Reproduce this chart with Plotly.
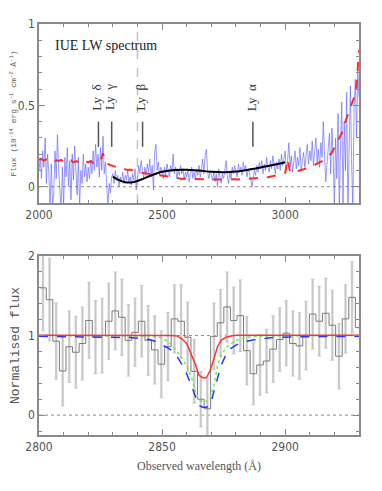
import numpy as np
import plotly.graph_objects as go
from plotly.subplots import make_subplots

# ---- top panel: IUE LW spectrum (flux in 1e-14 erg/s/cm2/A) ----
iue_start, iue_step = 2000, 5
iue_flux = [
    0.10, 0.18, 0.05, 0.22, 0.12, 0.30, 0.02, 0.20, 0.08, -0.13, 0.14, -0.11, -0.04, 0.22, 0.05, 0.32, 0.10, -0.02, -0.14, 0.12,
    -0.12, 0.18, 0.06, 0.24, 0.00, 0.16, -0.08, 0.20, 0.04, 0.25, 0.08, -0.05, 0.18, -0.12, 0.10, 0.02, 0.20, 0.06, 0.14, 0.03,
    0.12, 0.05, 0.16, 0.08, 0.22, 0.10, 0.26, 0.12, 0.20, 0.06, 0.24, 0.10, 0.31, 0.08, 0.15, -0.05, -0.12, 0.02, -0.04, 0.06,
    0.08, 0.02, 0.10, 0.04, 0.07, 0.00, 0.06, 0.03, 0.09, 0.02, 0.07, 0.04, 0.10, 0.03, 0.06, 0.01, 0.08, 0.04, 0.11, -0.02,
    0.06, 0.13, 0.08, 0.16, 0.10, 0.05, 0.12, 0.07, 0.14, 0.09, 0.17, 0.06, 0.13, -0.02, 0.21, 0.26, 0.10, 0.15, 0.07, 0.12,
    0.09, 0.05, 0.12, 0.07, 0.14, 0.10, 0.06, 0.13, 0.09, 0.20, 0.08, 0.12, 0.05, 0.10, 0.07, 0.13, 0.08, 0.11, 0.04, 0.09,
    0.06, 0.10, 0.03, 0.08, 0.12, 0.05, 0.09, 0.04, 0.11, 0.07, 0.13, 0.06, 0.10, 0.17, 0.08, 0.19, 0.23, 0.09, 0.05, 0.10,
    0.07, 0.04, 0.09, 0.03, 0.08, 0.00, 0.11, 0.06, 0.02, 0.08, 0.05, 0.10, 0.16, 0.07, 0.02, 0.09, 0.05, 0.12, 0.08, 0.13,
    0.10, 0.06, 0.14, 0.09, 0.12, 0.07, 0.15, 0.10, 0.13, 0.06, 0.11, 0.08, 0.05, 0.00, 0.04, 0.10, 0.07, 0.13, 0.09, 0.15,
    0.11, 0.16, 0.08, 0.14, 0.10, 0.18, 0.12, 0.09, 0.16, 0.11, 0.19, 0.13, 0.08, 0.15, 0.11, 0.17, 0.10, 0.20, 0.13, 0.17,
    0.22, 0.10, 0.16, 0.27, 0.12, 0.19, 0.09, 0.15, 0.22, 0.11, 0.18, 0.13, 0.24, 0.10, 0.17, 0.21, 0.12, 0.19, 0.26, 0.14,
    0.22, 0.16, 0.28, 0.13, 0.20, 0.30, 0.15, 0.23, 0.12, 0.27, 0.18, 0.40, 0.20, 0.03, 0.14, 0.24, 0.33, 0.08, 0.36, 0.20,
    -0.14, 0.30, 0.05, 0.45, -0.15, 0.25, 0.52, -0.12, 0.40, 0.10, 0.58, -0.15, 0.35, 0.62, 0.15, -0.14, 0.48, 0.66, 0.30, 0.72,
    0.55,
]

model_start, model_step = 2000, 10
model_flux = [
    0.165, 0.170, 0.160, 0.168, 0.158, 0.165, 0.155, 0.162, 0.158, 0.165,
    0.152, 0.160, 0.155, 0.162, 0.150, 0.158, 0.152, 0.160, 0.148, 0.155,
    0.150, 0.158, 0.145, 0.155, 0.165, 0.160, 0.205, 0.150, 0.140, 0.132,
    0.128, 0.125, 0.118, 0.120, 0.110, 0.108, 0.102, 0.105, 0.098, 0.095,
    0.090, 0.088, 0.085, 0.082, 0.080, 0.078, 0.076, 0.074, 0.072, 0.070,
    0.072, 0.070, 0.066, 0.064, 0.060, 0.056, 0.052, 0.050, 0.048, 0.050,
    0.052, 0.050, 0.048, 0.047, 0.046, 0.045, 0.046, 0.045, 0.044, 0.045,
    0.045, 0.044, 0.046, 0.045, 0.044, 0.045, 0.046, 0.045, 0.046, 0.045,
    0.046, 0.045, 0.046, 0.047, 0.046, 0.047, 0.048, 0.047, 0.049, 0.050,
    0.052, 0.054, 0.056, 0.058, 0.061, 0.064, 0.067, 0.071, 0.075, 0.080,
    0.085, 0.170, 0.090, 0.088, 0.092, 0.095, 0.100, 0.104, 0.110, 0.115,
    0.120, 0.128, 0.135, 0.142, 0.150, 0.155, 0.165, 0.175, 0.190, 0.210,
    0.240, 0.270, 0.300, 0.330, 0.380, 0.420, 0.470, 0.500, 0.550, 0.620,
    0.840,
]

cont_wave = [2300, 2325, 2350, 2375, 2400, 2425, 2450, 2475, 2500, 2550, 2600,
             2650, 2700, 2750, 2800, 2850, 2900, 2950, 3000]
cont_flux = [0.062, 0.040, 0.028, 0.026, 0.035, 0.050, 0.066, 0.080, 0.092, 0.103, 0.104,
             0.099, 0.092, 0.089, 0.093, 0.104, 0.118, 0.133, 0.150]

ly_names = ["Ly&nbsp;&nbsp;δ", "Ly&nbsp;&nbsp;γ", "Ly&nbsp;&nbsp;β", "Ly&nbsp;&nbsp;α"]
ly_wave = [2241.5, 2295.3, 2420.8, 2869.0]
lyman_limit = 2400

# ---- bottom panel: normalised flux around Ly alpha ----
bin_lo, bin_width = 2800.27, 2.672
norm_flux = [1.60, 1.45, 0.93, 0.555, 0.86, 0.79, 0.90, 1.19, 0.98, 1.00,
             1.18, 1.31, 1.23, 0.94, 1.04, 1.18, 0.94, 0.82, 0.64, 0.86,
             1.21, 1.18, 0.98, 0.55, 0.20, 0.08, 0.99, 1.16, 1.36, 1.19,
             1.25, 0.81, 0.52, 0.63, 0.68, 0.83, 0.95, 1.03, 0.90, 0.87,
             1.00, 1.27, 1.18, 1.28, 1.13, 0.74, 1.21, 1.48, 1.10]
norm_err = [0.54, 0.52, 0.48, 0.44, 0.45, 0.45, 0.46, 0.48, 0.46, 0.47,
            0.48, 0.49, 0.48, 0.45, 0.43, 0.45, 0.44, 0.43, 0.42, 0.43,
            0.43, 0.46, 0.44, 0.40, 0.35, 0.38, 0.42, 0.42, 0.44, 0.42,
            0.45, 0.43, 0.39, 0.38, 0.40, 0.42, 0.40, 0.41, 0.41, 0.42,
            0.43, 0.44, 0.44, 0.44, 0.44, 0.41, 0.43, 0.45, None]

fit_wave = [2800, 2830, 2837, 2842, 2845, 2848, 2850, 2852, 2854, 2856, 2858, 2860, 2862,
            2863.5, 2865, 2866.5, 2868, 2869.5, 2871, 2872.5, 2874, 2876, 2878, 2880,
            2884, 2888, 2895, 2905, 2930]
fit_red = [1.005, 1.005, 1.005, 1.005, 1.005, 1.005, 1.004, 1.003, 1.0, 0.995, 0.96, 0.90, 0.76,
           0.64, 0.50, 0.47, 0.47, 0.56, 0.70, 0.86, 0.94, 0.98, 0.995, 1.003,
           1.004, 1.004, 1.004, 1.004, 1.004]
fit_green = [1.0, 1.0, 1.0, 1.0, 0.995, 0.985, 0.97, 0.93, 0.88, 0.80, 0.72, 0.62, 0.47,
             0.30, 0.19, 0.17, 0.17, 0.22, 0.37, 0.62, 0.75, 0.85, 0.90, 0.94,
             0.975, 0.99, 0.998, 1.0, 1.0]
fit_blue = [0.99, 0.985, 0.975, 0.96, 0.95, 0.92, 0.89, 0.85, 0.81, 0.74, 0.64, 0.52, 0.36,
            0.24, 0.12, 0.10, 0.10, 0.12, 0.28, 0.47, 0.63, 0.76, 0.84, 0.88,
            0.925, 0.95, 0.975, 0.985, 0.99]

AX = "#8a8a8a"
TXT = "#555555"
TICKFONT = dict(family="Liberation Sans Narrow, DejaVu Sans Condensed, sans-serif", size=12, color=TXT)

iue_wave = iue_start + iue_step * np.arange(len(iue_flux))
model_wave = model_start + model_step * np.arange(len(model_flux))
edges = bin_lo + bin_width * np.arange(len(norm_flux) + 1)
centres = edges[:-1] + bin_width / 2

fig = make_subplots(rows=2, cols=1, vertical_spacing=0.129)

# top panel
fig.add_trace(go.Scatter(x=[2000, 3300], y=[0, 0], mode="lines",
                         line=dict(color=AX, width=1, dash="dot")), row=1, col=1)
fig.add_trace(go.Scatter(x=[lyman_limit, lyman_limit], y=[-0.1, 1.0], mode="lines",
                         line=dict(color="#c4c4c4", width=1.5, dash="dash")), row=1, col=1)
fig.add_trace(go.Scatter(x=iue_wave, y=iue_flux, mode="lines",
                         line=dict(color="rgba(100,100,255,0.65)", width=1)), row=1, col=1)
fig.add_trace(go.Scatter(x=model_wave, y=model_flux, mode="lines",
                         line=dict(color="#ff2a2a", width=2, dash="dash")), row=1, col=1)
fig.add_trace(go.Scatter(x=cont_wave, y=cont_flux, mode="lines", line_shape="spline",
                         line=dict(color="black", width=2)), row=1, col=1)
for name, w in zip(ly_names, ly_wave):
    fig.add_trace(go.Scatter(x=[w, w], y=[0.245, 0.40], mode="lines",
                             line=dict(color="#555", width=1.5)), row=1, col=1)
    fig.add_annotation(x=w, y=0.55, xref="x", yref="y", text=name, showarrow=False,
                       textangle=-90, xshift=-2,
                       font=dict(family="Liberation Serif", size=13, color="#333"))
fig.add_annotation(x=2057, y=0.87, xref="x", yref="y", text="IUE LW spectrum",
                   showarrow=False, xanchor="left",
                   font=dict(family="Liberation Serif", size=14, color="#222"))

# bottom panel
for yref in (0, 1):
    fig.add_trace(go.Scatter(x=[2800, 2930], y=[yref, yref], mode="lines",
                             line=dict(color=AX, width=1, dash="dot")), row=2, col=1)
fig.add_trace(go.Scatter(x=centres, y=norm_flux, mode="markers",
                         marker=dict(size=1, color="rgba(0,0,0,0)"),
                         error_y=dict(type="data", array=norm_err, color="#d6d6d6",
                                      thickness=2.5, width=0)), row=2, col=1)
fig.add_trace(go.Scatter(x=centres, y=norm_flux, mode="markers",
                         marker=dict(size=1, color="rgba(0,0,0,0)"),
                         error_y=dict(type="data", array=norm_err, color="#b0b0b0",
                                      thickness=0.5, width=2)), row=2, col=1)
fig.add_trace(go.Scatter(x=edges, y=norm_flux + [norm_flux[-1]], mode="lines", line_shape="hv",
                         line=dict(color="#7a7a7a", width=1)), row=2, col=1)
fig.add_trace(go.Scatter(x=fit_wave, y=fit_green, mode="lines",
                         line=dict(color="#66ee66", width=1.5, dash="dot")), row=2, col=1)
fig.add_trace(go.Scatter(x=fit_wave, y=fit_blue, mode="lines",
                         line=dict(color="#3333ff", width=1.5, dash="dash")), row=2, col=1)
fig.add_trace(go.Scatter(x=fit_wave, y=fit_red, mode="lines",
                         line=dict(color="#ff3333", width=1.5)), row=2, col=1)

axis_style = dict(showline=True, linecolor=AX, linewidth=1.5, mirror="ticks", ticks="inside",
                  ticklen=6, tickcolor=AX, showgrid=False, zeroline=False, tickfont=TICKFONT,
                  automargin=False)

fig.update_xaxes(range=[2000, 3300], tick0=2000, dtick=500,
                 minor=dict(ticks="inside", ticklen=3, dtick=100, tickcolor=AX),
                 **axis_style, row=1, col=1)
fig.update_yaxes(range=[-0.1, 1.0], tick0=0, dtick=0.5, domain=[0.5645, 1.0],
                 minor=dict(ticks="inside", ticklen=3, dtick=0.1, tickcolor=AX),
                 title=dict(text="Flux (10<sup>-14</sup> erg s<sup>-1</sup> cm<sup>-2</sup> Å<sup>-1</sup>)",
                            font=dict(family="Liberation Mono", size=8, color=TXT), standoff=6),
                 **axis_style, row=1, col=1)
fig.update_xaxes(range=[2800, 2930], tick0=2800, dtick=50,
                 minor=dict(ticks="inside", ticklen=3, dtick=10, tickcolor=AX),
                 title=dict(text="Observed wavelength (Å)",
                            font=dict(family="Liberation Serif", size=12, color=TXT), standoff=8),
                 **axis_style, row=2, col=1)
fig.update_yaxes(range=[-0.25, 2.0], tick0=0, dtick=1, domain=[0.0, 0.4355],
                 minor=dict(ticks="inside", ticklen=3, dtick=0.2, tickcolor=AX),
                 title=dict(text="Normalised flux",
                            font=dict(family="Liberation Mono", size=13, color=TXT), standoff=8),
                 **axis_style, row=2, col=1)

# page body adds an 8 px offset, so the figure is sized to fit inside the window
fig.update_layout(width=374, height=483, showlegend=False,
                  margin=dict(l=31, r=23, t=16, b=56),
                  paper_bgcolor="white", plot_bgcolor="white")

fig.write_html("out.html")
